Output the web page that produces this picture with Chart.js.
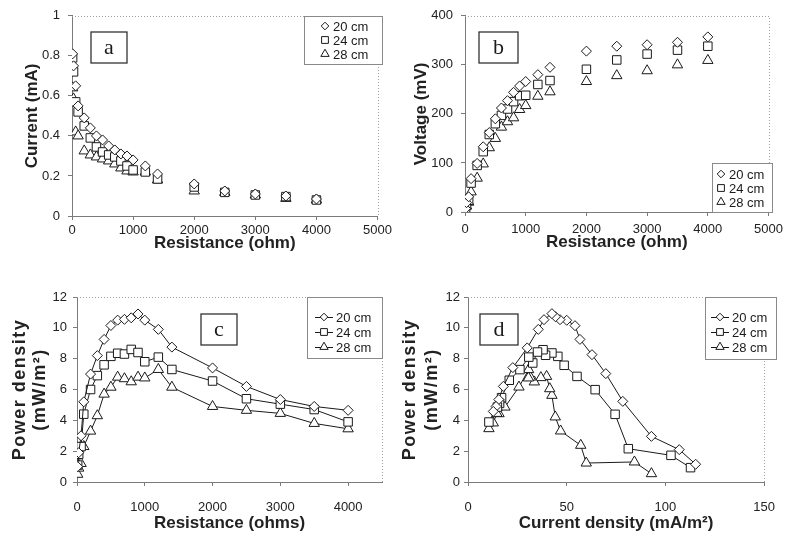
<!DOCTYPE html>
<html>
<head>
<meta charset="utf-8">
<script src="https://cdn.jsdelivr.net/npm/chart.js@4.4.1/dist/chart.umd.min.js"></script>
<style>
  body { margin: 0; background: #fff; width: 789px; height: 533px; overflow: hidden; position: relative; }
  canvas { position: absolute; }
</style>
</head>
<body>
<canvas id="chartA" width="395" height="258" style="left:0;top:0"></canvas>
<canvas id="chartB" width="389" height="258" style="left:400px;top:0"></canvas>
<canvas id="chartC" width="395" height="273" style="left:0;top:260px"></canvas>
<canvas id="chartD" width="389" height="273" style="left:400px;top:260px"></canvas>
<script>
// external resistances used for every series (ohm)
const resistance = [10, 25, 60, 100, 200, 300, 400, 500, 600, 700, 800, 900, 1000, 1200, 1400, 2000, 2500, 3000, 3500, 4000];
const seriesNames = ["20 cm", "24 cm", "28 cm"];

// a: current (mA)
const current20 = [0.81, 0.75, 0.65, 0.55, 0.49, 0.44, 0.40, 0.38, 0.35, 0.33, 0.31, 0.30, 0.28, 0.25, 0.21, 0.16, 0.125, 0.11, 0.10, 0.085];
const current24 = [0.79, 0.72, 0.57, 0.52, 0.45, 0.39, 0.345, 0.32, 0.305, 0.295, 0.275, 0.25, 0.23, 0.22, 0.185, 0.145, 0.118, 0.105, 0.097, 0.08];
const current28 = [0.64, 0.585, 0.42, 0.40, 0.325, 0.305, 0.295, 0.285, 0.275, 0.26, 0.24, 0.225, 0.22, 0.22, 0.18, 0.125, 0.118, 0.105, 0.088, 0.08];

// b: voltage (mV)
const voltage20 = [7, 19, 31, 68, 99, 133, 162, 190, 212, 227, 244, 257, 266, 280, 295, 328, 338, 341, 346, 357];
const voltage24 = [4, 15, 24, 59, 95, 123, 158, 180, 197, 210, 225, 237, 238, 260, 268, 291, 310, 322, 330, 338];
const voltage28 = [3, 12, 20, 41, 69, 98, 131, 150, 173, 184, 192, 209, 217, 236, 245, 266, 278, 288, 300, 309];

// c: power density (mW/m2) vs resistance
const power20 = [1.0, 1.9, 3.0, 5.2, 7.0, 8.2, 9.25, 10.15, 10.5, 10.55, 10.65, 10.9, 10.5, 9.9, 8.75, 7.4, 6.2, 5.35, 4.9, 4.65];
const power24 = [1.1, 1.8, 2.3, 4.4, 6.0, 6.9, 7.6, 8.15, 8.35, 8.3, 8.6, 8.4, 7.8, 8.1, 7.3, 6.55, 5.4, 5.05, 4.7, 3.9];
const power28 = [0.5, 0.9, 1.2, 2.3, 3.3, 4.3, 5.7, 6.15, 6.8, 6.7, 6.5, 6.8, 6.75, 7.3, 6.15, 4.9, 4.65, 4.45, 3.8, 3.45];

// d: power density vs current density (mA/m2)
const density20 = [115.3, 107, 92.9, 78.4, 69.8, 62.8, 56.7, 54.2, 50, 46.6, 44.3, 42.5, 38.5, 35.6, 30, 22.7, 17.9, 15.6, 14.2, 12.8];
const densityPower20 = [1.15, 2.1, 2.96, 5.23, 7.03, 8.26, 9.25, 10.14, 10.49, 10.53, 10.72, 10.92, 10.53, 9.9, 8.7, 7.42, 6.2, 5.35, 4.9, 4.58];
const density24 = [112.7, 102.8, 81.2, 74.5, 64.4, 55.2, 48.7, 45.5, 42.5, 39.3, 38, 35.2, 32.8, 30.8, 26.3, 20.9, 17, 16.0, 14.9, 10.6];
const densityPower24 = [0.93, 1.73, 2.16, 4.39, 5.99, 6.85, 7.57, 8.15, 8.37, 8.22, 8.58, 8.43, 7.72, 8.1, 7.29, 6.6, 5.47, 5.1, 4.86, 3.89];
const density28 = [92.9, 84.3, 59.9, 57.1, 46.9, 44.2, 42.5, 41.4, 39.8, 36.9, 33.6, 31.6, 30.6, 30.7, 25.8, 18.7, 15.7, 14.6, 12.8, 10.6];
const densityPower28 = [0.54, 1.3, 1.23, 2.38, 3.31, 4.22, 5.62, 6.05, 6.85, 6.77, 6.49, 6.8, 6.75, 7.29, 6.16, 4.86, 4.43, 4.45, 3.83, 3.46];

// tick labels
const resistanceTicks = [0, 1000, 2000, 3000, 4000, 5000];
const resistanceTicksC = [0, 1000, 2000, 3000, 4000];
const densityTicks = [0, 50, 100, 150];
const currentTicks = [0, 0.2, 0.4, 0.6, 0.8, 1];
const voltageTicks = [0, 100, 200, 300, 400];
const powerTicks = [0, 2, 4, 6, 8, 10, 12];

const FONT = "'Liberation Sans', Arial, sans-serif";
const INK = "#1a1a1a";
const markers = [
  { pointStyle: "rectRot", radius: 5, legendRadius: 3.8 },
  { pointStyle: "rect", radius: 6, legendRadius: 4.8 },
  { pointStyle: "triangle", radius: 6, legendRadius: 4.8 },
];

const pairs = (xs, ys) => xs.map((x, i) => ({ x: x, y: ys[i] }));

function drawMarker(ctx, style, x, y, r) {
  ctx.beginPath();
  if (style === "rectRot") {
    ctx.moveTo(x - r, y); ctx.lineTo(x, y - r); ctx.lineTo(x + r, y); ctx.lineTo(x, y + r); ctx.closePath();
  } else if (style === "rect") {
    const s = r * Math.SQRT1_2;
    ctx.rect(x - s, y - s, 2 * s, 2 * s);
  } else {
    const a = (2 * Math.PI) / 3;
    ctx.moveTo(x, y - r);
    ctx.lineTo(x + Math.sin(a) * r, y - Math.cos(a) * r);
    ctx.lineTo(x + Math.sin(2 * a) * r, y - Math.cos(2 * a) * r);
    ctx.closePath();
  }
  ctx.fillStyle = "#fff";
  ctx.fill();
  ctx.strokeStyle = INK;
  ctx.lineWidth = 1;
  ctx.stroke();
}

// dotted frame, letter box, legend and (optionally) a spaced-out y title
function makeDecor(d) {
  return {
    id: "decor",
    afterDraw(chart) {
      const ctx = chart.ctx;
      const ca = chart.chartArea;
      ctx.save();
      ctx.strokeStyle = "#a0a0a0";
      ctx.lineWidth = 1;
      ctx.setLineDash([1, 2]);
      ctx.beginPath();
      ctx.moveTo(ca.left, Math.round(ca.top) + 0.5);
      ctx.lineTo(Math.round(ca.right) + 0.5, Math.round(ca.top) + 0.5);
      ctx.lineTo(Math.round(ca.right) + 0.5, ca.bottom);
      ctx.stroke();
      ctx.setLineDash([]);

      // panel letter
      const L = d.letter;
      ctx.strokeStyle = "#333";
      ctx.lineWidth = 1.3;
      ctx.strokeRect(L.x, L.y, L.w, L.h);
      ctx.fillStyle = INK;
      ctx.font = "22px 'Liberation Serif', 'Times New Roman', serif";
      ctx.textAlign = "center";
      ctx.textBaseline = "middle";
      ctx.fillText(L.text, L.x + L.w / 2, L.y + L.h / 2 + 1);

      // legend
      const G = d.legend;
      ctx.fillStyle = "#fff";
      ctx.fillRect(G.x, G.y, G.w, G.h);
      ctx.strokeStyle = "#8a8a8a";
      ctx.lineWidth = 1;
      ctx.strokeRect(G.x + 0.5, G.y + 0.5, G.w, G.h);
      ctx.font = "13px " + FONT;
      ctx.textAlign = "left";
      ctx.textBaseline = "middle";
      G.rows.forEach((ry, i) => {
        if (G.line) {
          ctx.strokeStyle = INK;
          ctx.beginPath();
          ctx.moveTo(G.markerX - 9, ry + 0.5);
          ctx.lineTo(G.markerX + 9, ry + 0.5);
          ctx.stroke();
        }
        drawMarker(ctx, markers[i].pointStyle, G.markerX, ry, markers[i].legendRadius);
        ctx.fillStyle = INK;
        ctx.fillText(seriesNames[i], G.textX, ry + 1);
      });

      // y title with wide letter spacing
      if (d.yTitle) {
        const T = d.yTitle;
        const cy = (ca.top + ca.bottom) / 2;
        ctx.fillStyle = "#222";
        ctx.font = "bold " + T.size + "px " + FONT;
        ctx.textAlign = "center";
        ctx.textBaseline = "middle";
        ctx.letterSpacing = T.spacing;
        T.lines.forEach((txt, i) => {
          ctx.save();
          ctx.translate(T.xs[i], cy);
          ctx.rotate(-Math.PI / 2);
          ctx.fillText(txt, 0, 0);
          ctx.restore();
        });
        ctx.letterSpacing = "0px";
      }
      ctx.restore();
    },
  };
}

function axis(a, fitKey) {
  return {
    type: "linear",
    min: a.min,
    max: a.max,
    afterBuildTicks: (s) => { s.ticks = a.ticks.map((v) => ({ value: v })); },
    afterFit: (s) => { s[fitKey] = a.size; },
    border: { display: true, color: "#7a7a7a", width: 1 },
    grid: { display: true, drawOnChartArea: false, drawTicks: true, tickLength: 4, color: "#7a7a7a" },
    ticks: {
      color: "#222",
      font: { family: FONT, size: 13 },
      padding: a.pad,
      maxRotation: 0,
      autoSkip: false,
      callback: (v) => String(v),
    },
    title: {
      display: !!a.title,
      text: a.title || "",
      color: "#222",
      font: { family: FONT, size: 17, weight: "bold", lineHeight: 1.1 },
      padding: a.titlePad || 0,
    },
  };
}

function makePanel(id, p) {
  const datasets = p.series.map((s, i) => ({
    label: seriesNames[i],
    data: s,
    showLine: p.lines,
    borderColor: INK,
    borderWidth: 1,
    tension: 0,
    pointStyle: markers[i].pointStyle,
    pointRadius: markers[i].radius,
    pointHoverRadius: markers[i].radius,
    pointBackgroundColor: "#fff",
    pointBorderColor: INK,
    pointBorderWidth: 1,
  }));
  return new Chart(document.getElementById(id), {
    type: "scatter",
    data: { datasets: datasets },
    options: {
      responsive: false,
      animation: false,
      events: [],
      layout: { padding: p.padding },
      plugins: { legend: { display: false }, tooltip: { enabled: false } },
      scales: { x: axis(p.x, "height"), y: axis(p.y, "width") },
    },
    plugins: [makeDecor(p.decor)],
  });
}

makePanel("chartA", {
  lines: false,
  series: [pairs(resistance, current20), pairs(resistance, current24), pairs(resistance, current28)],
  padding: { top: 15, right: 13, left: 0, bottom: 0 },
  x: { min: 0, max: 5000, ticks: resistanceTicks, size: 42, pad: 3, title: "Resistance (ohm)", titlePad: { top: 0, bottom: 5 } },
  y: { min: 0, max: 1, ticks: currentTicks, size: 72, pad: 8, title: "Current (mA)", titlePad: { top: 23, bottom: 0 } },
  decor: {
    letter: { text: "a", x: 91, y: 32, w: 36, h: 31 },
    legend: { x: 304, y: 16, w: 78, h: 48, rows: [26, 40, 54], markerX: 325, textX: 333, line: false },
  },
});

makePanel("chartB", {
  lines: false,
  series: [pairs(resistance, voltage20), pairs(resistance, voltage24), pairs(resistance, voltage28)],
  padding: { top: 13, right: 17, left: 0, bottom: 0 },
  x: { min: 0, max: 5000, ticks: resistanceTicks, size: 46, pad: 6, title: "Resistance (ohm)", titlePad: { top: 0, bottom: 6 } },
  y: { min: 0, max: 400, ticks: voltageTicks, size: 65, pad: 8, title: "Voltage (mV)", titlePad: { top: 12, bottom: 0 } },
  decor: {
    letter: { text: "b", x: 79, y: 32, w: 39, h: 31 },
    legend: { x: 312, y: 163, w: 60, h: 49, rows: [174, 188, 202], markerX: 321, textX: 329, line: false },
  },
});

makePanel("chartC", {
  lines: true,
  series: [pairs(resistance, power20), pairs(resistance, power24), pairs(resistance, power28)],
  padding: { top: 37, right: 13, left: 0, bottom: 0 },
  x: { min: 0, max: 4500, ticks: resistanceTicksC, size: 51, pad: 14, title: "Resistance (ohms)", titlePad: { top: 0, bottom: 0 } },
  y: { min: 0, max: 12, ticks: powerTicks, size: 77, pad: 6 },
  decor: {
    letter: { text: "c", x: 201, y: 54, w: 36, h: 31 },
    legend: { x: 307, y: 37, w: 75, h: 61, rows: [57, 72, 87], markerX: 324, textX: 336, line: true },
    yTitle: { lines: ["Power density", "(mW/m\u00B2)"], xs: [20, 40], size: 18, spacing: "1.5px" },
  },
});

makePanel("chartD", {
  lines: true,
  series: [pairs(density20, densityPower20), pairs(density24, densityPower24), pairs(density28, densityPower28)],
  padding: { top: 37, right: 13, left: 0, bottom: 0 },
  x: { min: 0, max: 150, ticks: densityTicks, size: 51, pad: 14, title: "Current density (mA/m\u00B2)", titlePad: { top: 0, bottom: 0 } },
  y: { min: 0, max: 12, ticks: powerTicks, size: 68, pad: 4 },
  decor: {
    letter: { text: "d", x: 80, y: 54, w: 38, h: 31 },
    legend: { x: 305, y: 37, w: 71, h: 62, rows: [57, 72, 87], markerX: 320, textX: 332, line: true },
    yTitle: { lines: ["Power density", "(mW/m\u00B2)"], xs: [10, 32], size: 18, spacing: "1.5px" },
  },
});
</script>
</body>
</html>
